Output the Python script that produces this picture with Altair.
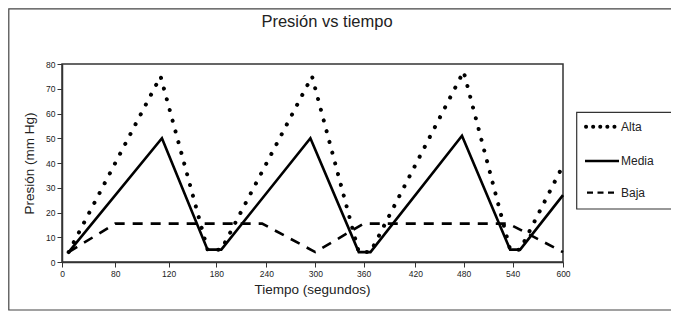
import altair as alt
import pandas as pd

# ---- data ----
alta_t = [10, 114, 169, 186, 296, 354, 368, 480, 537, 549, 600]
alta_v = [4, 75, 5, 5, 75, 4, 4, 77, 5, 5, 39]
media_t = [10, 115, 169, 186, 294, 354, 368, 478, 537, 549, 600]
media_v = [4, 50, 5, 5, 50, 4, 4, 51, 5, 5, 27]
baja_t = [10, 80, 235, 300, 360, 535, 600]
baja_v = [4, 15.5, 15.5, 4, 15.5, 15.5, 4]

x_ticks = [0, 80, 120, 180, 240, 300, 360, 420, 480, 540, 600]
x_tick_px = [0, 53.3, 106.6, 154.3, 204.3, 253.3, 301.6, 353.3, 401.6, 450.6, 501]
y_ticks = [0, 10, 20, 30, 40, 50, 60, 70, 80]

series_names = ["Alta", "Media", "Baja"]

W, H = 501, 198
PAD = {"left": 54, "top": 56, "right": 108, "bottom": 49}
FONT = "Liberation Sans"
INK = "#222222"

rows = []
for name, ts, vs in [("Alta", alta_t, alta_v), ("Media", media_t, media_v), ("Baja", baja_t, baja_v)]:
    for i, (t, v) in enumerate(zip(ts, vs)):
        rows.append({"serie": name, "t": t, "p": v, "o": i})
df = pd.DataFrame(rows)

xs = alt.Scale(domain=x_ticks, range=x_tick_px)
ys = alt.Scale(domain=[0, 80])

xax = alt.Axis(values=x_ticks, title="Tiempo (segundos)", grid=False,
               labelFontSize=8.5, labelFont=FONT, labelColor=INK, labelPadding=2,
               tickSize=5, tickColor="#333", domainColor="#333", domainWidth=1.5,
               titleFont=FONT, titleFontSize=13.5, titleFontWeight="normal", titleColor=INK,
               titleX=250, titleY=27, titleBaseline="middle", titleAlign="center",
               labelFlush=False)
yax = alt.Axis(values=y_ticks, title="Presión (mm Hg)", grid=False,
               labelFontSize=8.5, labelFont=FONT, labelColor=INK, labelPadding=2,
               tickSize=5, tickColor="#333", domainColor="#333", domainWidth=1.5,
               titleFont=FONT, titleFontSize=13.5, titleFontWeight="normal", titleColor=INK,
               titleX=-33, titleY=99, titleBaseline="middle", titleAlign="center", titleAngle=270,
               labelFlush=False)

base = alt.Chart(df)


def line(name, **kw):
    return base.transform_filter(alt.datum.serie == name).mark_line(color="black", **kw).encode(
        x=alt.X("t:Q", scale=xs, axis=xax),
        y=alt.Y("p:Q", scale=ys, axis=yax),
        order="o:O",
    )


alta = line("Alta", strokeWidth=4, strokeDash=[0.1, 11], strokeCap="round")
media = line("Media", strokeWidth=2.6)
baja = line("Baja", strokeWidth=2.6, strokeDash=[10, 8])

one = alt.Data(values=[{"a": 0}])

# chart frame and legend box (decoration)
frame_bottom = H + PAD["bottom"] - 1
frame = alt.Chart(one).mark_rect(fill=None, stroke="#444", strokeWidth=1.2).encode(
    x=alt.value(-PAD["left"] + 0.8), x2=alt.value(620),
    y=alt.value(-PAD["top"] + 0.8), y2=alt.value(frame_bottom))
legbox = alt.Chart(one).mark_rect(fill=None, stroke="#333", strokeWidth=1.2).encode(
    x=alt.value(514.7), x2=alt.value(640), y=alt.value(48.3), y2=alt.value(145))

leg_y = [62.7, 97, 128.7]
leg_alta = alt.Chart(one).mark_rule(color="black", strokeWidth=4, strokeDash=[0.1, 7], strokeCap="round").encode(
    x=alt.value(524), x2=alt.value(556), y=alt.value(leg_y[0]))
leg_media = alt.Chart(one).mark_rule(color="black", strokeWidth=2.6).encode(
    x=alt.value(523), x2=alt.value(557), y=alt.value(leg_y[1]))
leg_baja = alt.Chart(one).mark_rule(color="black", strokeWidth=2.2, strokeDash=[6, 4.5]).encode(
    x=alt.value(525), x2=alt.value(553), y=alt.value(leg_y[2]))
leg_text = [
    alt.Chart(one).mark_text(align="left", baseline="middle", font=FONT, fontSize=12, color=INK).encode(
        x=alt.value(559), y=alt.value(yy), text=alt.value(nm))
    for nm, yy in zip(series_names, leg_y)
]

title = alt.Chart(one).mark_text(align="center", baseline="alphabetic", font=FONT, fontSize=16.5, color=INK).encode(
    x=alt.value(265), y=alt.value(-37), text=alt.value("Presión vs tiempo"))

chart = alt.layer(frame, legbox, baja, media, alta, leg_alta, leg_media, leg_baja, *leg_text, title).properties(
    width=W, height=H,
    autosize=alt.AutoSizeParams(type="none"),
    padding=PAD,
).configure_view(stroke="#333", strokeWidth=1.5)

chart.save("out.html", embed_options={"renderer": "svg", "actions": False})
